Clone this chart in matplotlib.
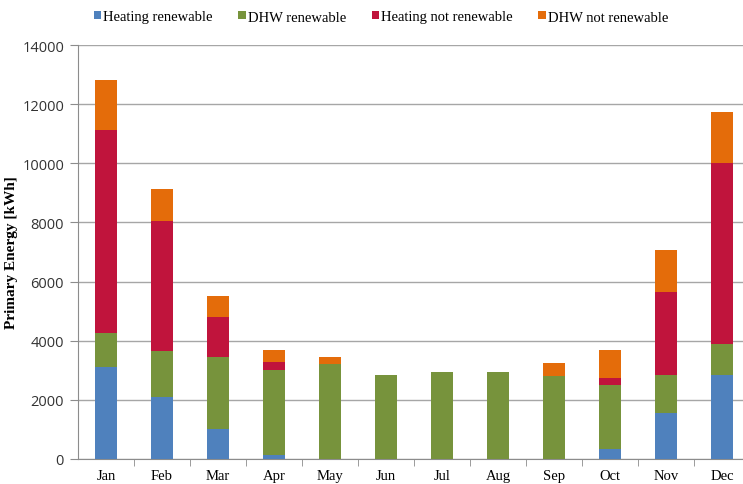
import matplotlib
matplotlib.use("Agg")
import matplotlib.pyplot as plt
import numpy as np

months = ["Jan", "Feb", "Mar", "Apr", "May", "Jun", "Jul", "Aug", "Sep", "Oct", "Nov", "Dec"]
heating_renewable = [3100, 2100, 1000, 150, 0, 0, 0, 0, 0, 330, 1550, 2830]
dhw_renewable = [1150, 1550, 2450, 2860, 3210, 2840, 2940, 2940, 2800, 2170, 1290, 1060]
heating_not_renewable = [6880, 4400, 1350, 270, 0, 0, 0, 0, 0, 240, 2810, 6130]
dhw_not_renewable = [1680, 1080, 710, 410, 240, 0, 0, 0, 440, 950, 1420, 1710]

series = [
    ("Heating renewable", heating_renewable, "#4F81BD"),
    ("DHW renewable", dhw_renewable, "#77933C"),
    ("Heating not renewable", heating_not_renewable, "#C0143C"),
    ("DHW not renewable", dhw_not_renewable, "#E46C0A"),
]

fig = plt.figure(figsize=(7.43, 4.85), dpi=100)
W, H = 743, 485
left, right, top, bottom = 78, 750, 46, 460
ax = fig.add_axes([left / W, (H - bottom) / H, (right - left) / W, (bottom - top) / H])

x = np.arange(len(months))
base = np.zeros(len(months))
handles = []
for name, vals, col in series:
    vals = np.array(vals, dtype=float)
    b = ax.bar(x, vals, 0.39, bottom=base, color=col, label=name, zorder=3, linewidth=0)
    base += vals
    handles.append(b)

ax.set_xlim(-0.5, 11.5)
ax.set_ylim(0, 14000)
ax.set_yticks(np.arange(0, 14001, 2000))
ax.yaxis.grid(True, color="#A6A6A6", linewidth=1.0, zorder=0)
ax.set_axisbelow(True)

for s in ["top", "right"]:
    ax.spines[s].set_visible(False)
ax.spines["left"].set_color("#8C8C8C")
ax.spines["bottom"].set_color("#8C8C8C")

ax.set_xticks(x)
ax.set_xticklabels(months, fontfamily="Liberation Serif", fontsize=10.5)
ax.tick_params(axis="x", which="major", length=0, pad=7)
ax.set_xticks(np.arange(0.5, 11.5, 1.0), minor=True)
ax.tick_params(axis="x", which="minor", length=5, color="#8C8C8C", direction="out")
ax.tick_params(axis="y", length=6, color="#8C8C8C", direction="out", pad=4)
for lab in ax.get_yticklabels():
    lab.set_fontfamily("Open Sans")
    lab.set_fontsize(10.5)
    lab.set_color("#333333")

ax.set_ylabel("Primary Energy [kWh]", fontfamily="Liberation Serif", fontweight="bold", fontsize=11)
ax.yaxis.set_label_coords((18 - left) / (right - left), 0.5)

fig.legend(handles=handles, labels=[s[0] for s in series], loc="center", bbox_to_anchor=(381 / W, 1 - 18 / H),
           ncol=4, frameon=False, handlelength=0.5, handleheight=0.5, handletextpad=0.15, columnspacing=1.75,
           prop={"family": "Liberation Serif", "size": 10.5})

fig.savefig("out.png", dpi=100)
